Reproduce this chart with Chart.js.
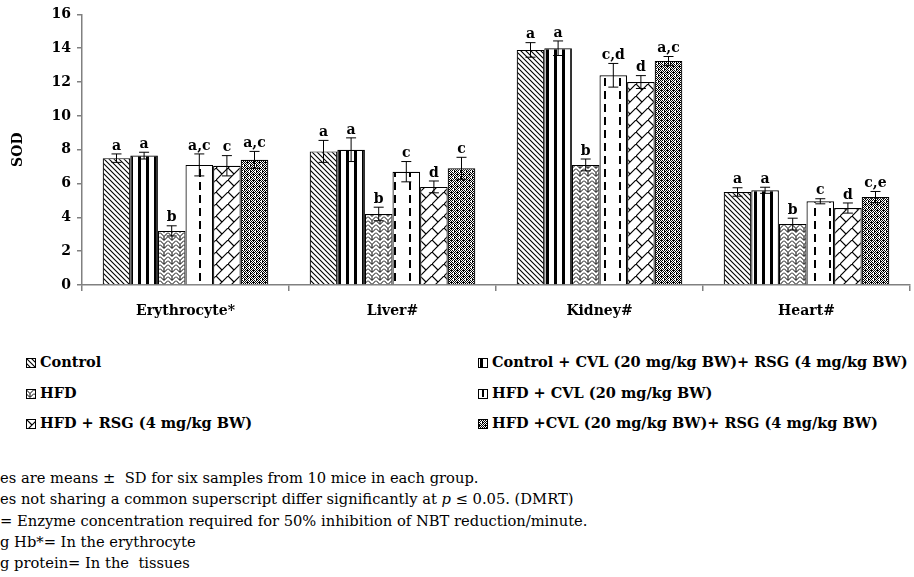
<!DOCTYPE html>
<html>
<head>
<meta charset="utf-8">
<script src="https://cdn.jsdelivr.net/npm/chart.js@4/dist/chart.umd.min.js"></script>
<style>
  body { margin: 0; background: #fff; }
  #wrap { position: relative; width: 914px; height: 577px; overflow: hidden; background: #fff; }
  #chartBox { position: absolute; left: 0; top: 0; width: 914px; height: 335px; }
  .leg { position: absolute; font: bold 14.5px 'DejaVu Serif', serif; color: #000; white-space: nowrap; line-height: 18px; }
  .leg canvas { display: inline-block; vertical-align: -1px; margin-right: 4px; }
  #notes { position: absolute; left: 0; top: 467px; font: 14.7px 'DejaVu Serif', serif; color: #000; line-height: 21.3px; white-space: nowrap; }
</style>
</head>
<body>
<div id="wrap">
  <div id="chartBox"><canvas id="sodChart" width="914" height="335"></canvas></div>
  <div id="legend"></div>
  <div id="notes">
    <div>es are means &plusmn;&nbsp; SD for six samples from 10 mice in each group.</div>
    <div>es not sharing a common superscript differ significantly at <i>p</i> &le; 0.05. (DMRT)</div>
    <div>= Enzyme concentration required for 50% inhibition of NBT reduction/minute.</div>
    <div>g Hb*= In the erythrocyte</div>
    <div>g protein= In the&nbsp; tissues</div>
  </div>
</div>
<script>
// 数据：SOD 各组均值、标准差与显著性字母
const categories = ['Erythrocyte*', 'Liver#', 'Kidney#', 'Heart#'];
const groupNames = [
  'Control',
  'Control + CVL (20 mg/kg BW)+  RSG (4 mg/kg BW)',
  'HFD',
  'HFD + CVL (20 mg/kg BW)',
  'HFD + RSG (4 mg/kg BW)',
  'HFD +CVL (20 mg/kg BW)+  RSG (4 mg/kg BW)',
];
const controlValues = [7.5, 7.9, 13.9, 5.5];
const cvlRsgValues = [7.65, 8.0, 14.0, 5.6];
const hfdValues = [3.2, 4.2, 7.1, 3.6];
const hfdCvlValues = [7.1, 6.7, 12.4, 4.95];
const hfdRsgValues = [7.05, 5.8, 12.0, 4.55];
const hfdCvlRsgValues = [7.4, 6.9, 13.25, 5.2];

const controlSd = [0.25, 0.65, 0.43, 0.25];
const cvlRsgSd = [0.2, 0.7, 0.43, 0.18];
const hfdSd = [0.3, 0.4, 0.35, 0.35];
const hfdCvlSd = [0.65, 0.6, 0.7, 0.15];
const hfdRsgSd = [0.6, 0.35, 0.38, 0.3];
const hfdCvlRsgSd = [0.5, 0.65, 0.26, 0.33];

const controlLetters = ['a', 'a', 'a', 'a'];
const cvlRsgLetters = ['a', 'a', 'a', 'a'];
const hfdLetters = ['b', 'b', 'b', 'b'];
const hfdCvlLetters = ['a,c', 'c', 'c,d', 'c'];
const hfdRsgLetters = ['c', 'd', 'd', 'd'];
const hfdCvlRsgLetters = ['a,c', 'c', 'a,c', 'c,e'];

const yTicks = [0, 2, 4, 6, 8, 10, 12, 14, 16];

const SERIF = "'DejaVu Serif', serif";

// 生成填充图案
function makeTile(w, h, draw) {
  const c = document.createElement('canvas');
  c.width = w;
  c.height = h;
  const g = c.getContext('2d');
  g.fillStyle = '#fff';
  g.fillRect(0, 0, w, h);
  g.strokeStyle = '#000';
  g.fillStyle = '#000';
  draw(g);
  return c;
}

const tiles = [
  // 斜线 \\\
  makeTile(5, 5, (g) => {
    g.lineWidth = 1.1;
    g.beginPath();
    g.moveTo(-1, -1); g.lineTo(6, 6);
    g.moveTo(-1, 4); g.lineTo(1, 6);
    g.moveTo(4, -1); g.lineTo(6, 1);
    g.stroke();
  }),
  // 粗竖条
  makeTile(8, 4, (g) => {
    g.fillRect(2, 0, 3, 4);
  }),
  // 人字纹
  makeTile(8, 8, (g) => {
    g.lineWidth = 1;
    g.beginPath();
    g.moveTo(0, 0.5); g.lineTo(4, 4.5); g.lineTo(8, 0.5);
    g.moveTo(0, 4.5); g.lineTo(4, 8.5); g.lineTo(8, 4.5);
    g.moveTo(0, -3.5); g.lineTo(4, 0.5); g.lineTo(8, -3.5);
    g.moveTo(4, 4.5); g.lineTo(4, 8);
    g.stroke();
  }),
  // 竖虚线
  makeTile(15, 13, (g) => {
    g.fillRect(4, 0, 2, 8);
  }),
  // 大斜格
  makeTile(12, 12, (g) => {
    g.lineWidth = 1.2;
    g.beginPath();
    g.moveTo(-1, 13); g.lineTo(13, -1);
    g.moveTo(0, 0); g.lineTo(6, 6);
    g.stroke();
  }),
  // 密集网点
  makeTile(6, 6, (g) => {
    for (let x = 0; x < 6; x++) {
      for (let y = 0; y < 6; y++) {
        if ((x + y) % 2 === 0) g.fillRect(x, y, 1, 1);
      }
    }
    g.fillRect(1, 0, 1, 1);
    g.fillRect(4, 3, 1, 1);
    g.fillStyle = '#fff';
    g.fillRect(3, 3, 1, 1);
  }),
];

const canvas = document.getElementById('sodChart');
const ctx = canvas.getContext('2d');
const patterns = tiles.map((t) => ctx.createPattern(t, 'repeat'));

const valueSets = [controlValues, cvlRsgValues, hfdValues, hfdCvlValues, hfdRsgValues, hfdCvlRsgValues];
const sdSets = [controlSd, cvlRsgSd, hfdSd, hfdCvlSd, hfdRsgSd, hfdCvlRsgSd];
const letterSets = [controlLetters, cvlRsgLetters, hfdLetters, hfdCvlLetters, hfdRsgLetters, hfdCvlRsgLetters];

const datasets = groupNames.map((name, i) => ({
  label: name,
  data: valueSets[i],
  sd: sdSets[i],
  letters: letterSets[i],
  backgroundColor: patterns[i],
  borderColor: '#000',
  borderWidth: 1.2,
  borderSkipped: 'bottom',
  categoryPercentage: 0.8,
  barPercentage: 1.0,
}));

// 误差线与字母
const errorBarPlugin = {
  id: 'errorBars',
  afterDatasetsDraw(chart) {
    const c = chart.ctx;
    const yScale = chart.scales.y;
    c.save();
    chart.data.datasets.forEach((ds, i) => {
      const meta = chart.getDatasetMeta(i);
      meta.data.forEach((bar, j) => {
        const v = ds.data[j];
        const s = ds.sd[j];
        const top = yScale.getPixelForValue(v + s);
        const bot = yScale.getPixelForValue(v - s);
        c.strokeStyle = '#000';
        c.lineWidth = 1;
        c.beginPath();
        c.moveTo(bar.x, top); c.lineTo(bar.x, bot);
        c.moveTo(bar.x - 5, top); c.lineTo(bar.x + 5, top);
        c.moveTo(bar.x - 5, bot); c.lineTo(bar.x + 5, bot);
        c.stroke();
        c.fillStyle = '#000';
        c.font = 'bold 14px ' + SERIF;
        c.textAlign = 'center';
        c.textBaseline = 'bottom';
        c.fillText(ds.letters[j], bar.x, top - 1);
      });
    });
    c.restore();
  },
};

const chart = new Chart(ctx, {
  type: 'bar',
  data: { labels: categories, datasets: datasets },
  options: {
    responsive: false,
    animation: false,
    layout: { padding: { top: 6, right: 4, left: 0, bottom: 0 } },
    plugins: {
      legend: { display: false },
      tooltip: { enabled: false },
    },
    scales: {
      x: {
        grid: { offset: true, drawOnChartArea: false, drawTicks: true, tickLength: 6, color: '#808080', lineWidth: 1.5 },
        border: { display: true, color: '#808080', width: 1.5 },
        ticks: { color: '#000', font: { family: SERIF, size: 14, weight: 'bold' }, padding: 12 },
        afterFit(scale) { scale.height = 50; },
      },
      y: {
        min: 0,
        max: 16,
        afterBuildTicks(scale) { scale.ticks = yTicks.map((v) => ({ value: v })); },
        grid: { drawOnChartArea: false, drawTicks: true, tickLength: 5, color: '#808080', lineWidth: 1.5 },
        border: { display: true, color: '#808080', width: 1.5 },
        ticks: { color: '#000', font: { family: SERIF, size: 14, weight: 'bold' }, padding: 6 },
        title: { display: true, text: 'SOD', color: '#000', font: { family: SERIF, size: 14, weight: 'bold' }, padding: { top: 10, bottom: 0 } },
        afterFit(scale) { scale.width = 82; },
      },
    },
  },
  plugins: [errorBarPlugin],
});

// 图例（两列三行）
const legendBox = document.getElementById('legend');
const legendPos = [
  [26, 353], [478, 353],
  [26, 383.5], [478, 383.5],
  [26, 414], [478, 414],
];
chart.data.datasets.forEach((ds, i) => {
  const item = document.createElement('div');
  item.className = 'leg';
  item.style.left = legendPos[i][0] + 'px';
  item.style.top = legendPos[i][1] + 'px';
  const sw = document.createElement('canvas');
  sw.width = 10;
  sw.height = 10;
  const g = sw.getContext('2d');
  g.fillStyle = g.createPattern(tiles[i], 'repeat');
  g.fillRect(0, 0, 10, 10);
  g.strokeStyle = '#000';
  g.lineWidth = 1;
  g.strokeRect(0.5, 0.5, 9, 9);
  item.appendChild(sw);
  item.appendChild(document.createTextNode(ds.label));
  legendBox.appendChild(item);
});
</script>
</body>
</html>
